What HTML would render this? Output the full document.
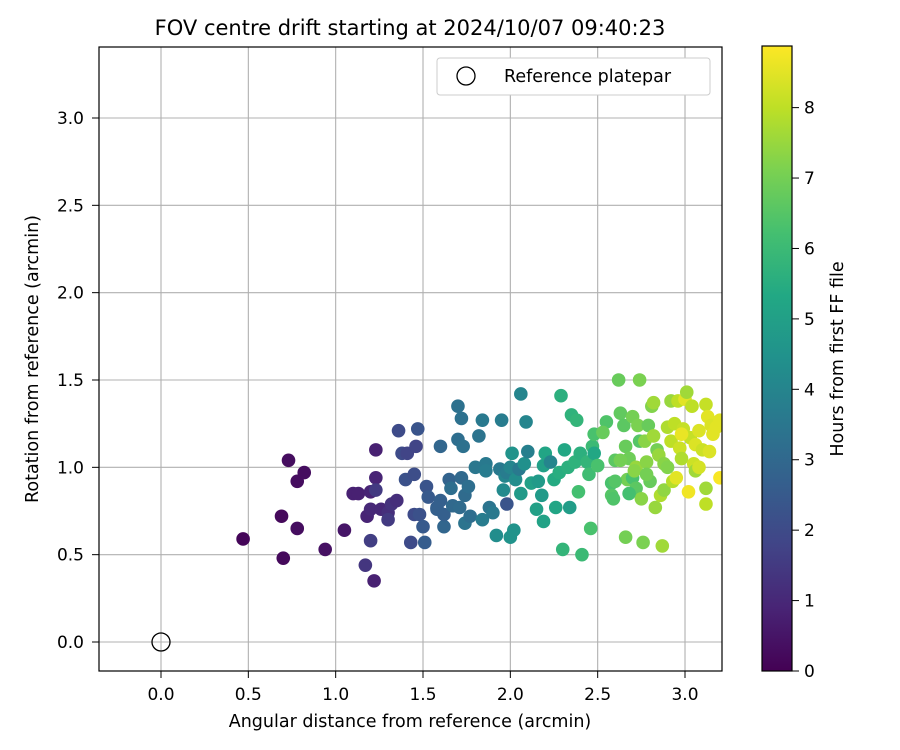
<!DOCTYPE html>
<html><head><meta charset="utf-8"><style>
body{margin:0;background:#fff;}
svg{display:block;font-family:"DejaVu Sans","Liberation Sans",sans-serif;}
</style></head><body>
<svg id="chart" width="900" height="750" viewBox="0 0 900 750" xmlns="http://www.w3.org/2000/svg">
<defs>
<linearGradient id="vir" x1="0" y1="1" x2="0" y2="0">
<stop offset="0" stop-color="#440154"/><stop offset="0.1" stop-color="#482475"/><stop offset="0.2" stop-color="#414487"/><stop offset="0.3" stop-color="#355f8d"/><stop offset="0.4" stop-color="#2a788e"/><stop offset="0.5" stop-color="#21918c"/><stop offset="0.6" stop-color="#22a884"/><stop offset="0.7" stop-color="#44bf70"/><stop offset="0.8" stop-color="#7ad151"/><stop offset="0.9" stop-color="#bddf26"/><stop offset="1" stop-color="#fde725"/>
</linearGradient>
<clipPath id="clip"><rect x="99" y="47" width="623" height="624"/></clipPath>
</defs>
<text x="410" y="35" font-size="21" text-anchor="middle">FOV centre drift starting at 2024/10/07 09:40:23</text>
<g id="grid"></g>
<g id="points" clip-path="url(#clip)"></g>
<rect x="99" y="47" width="623" height="624" fill="none" stroke="#000" stroke-width="1.2"/>
<g id="ticks"></g>
<text x="410" y="727" font-size="17.5" text-anchor="middle">Angular distance from reference (arcmin)</text>
<text transform="translate(38,359) rotate(-90)" font-size="17.5" text-anchor="middle">Rotation from reference (arcmin)</text>
<g>
<rect x="437" y="58" width="273" height="37" rx="3" fill="#fff" stroke="#ccc" stroke-width="1"/>
<circle cx="466" cy="76" r="9" fill="none" stroke="#000" stroke-width="1.3"/>
<text x="504" y="82" font-size="17.5">Reference platepar</text>
</g>
<rect x="762" y="46" width="30" height="625" fill="url(#vir)" stroke="#000" stroke-width="1.2"/>
<g id="cbticks"></g>
<text transform="translate(843,359) rotate(-90)" font-size="17.5" text-anchor="middle">Hours from first FF file</text>
</svg>
<script>
const xTicks=[0.0,0.5,1.0,1.5,2.0,2.5,3.0];
const yTicks=[0.0,0.5,1.0,1.5,2.0,2.5,3.0];
const cTicks=[0,1,2,3,4,5,6,7,8];
const refPoint=[0,0];
const ptX=[0.47,0.70,0.69,0.73,0.78,0.78,0.82,0.94,1.05,1.10,1.13,1.18,1.20,1.20,1.22,1.23,1.23,1.17,1.20,1.23,1.26,1.30,1.30,1.32,1.35,1.36,1.38,1.40,1.41,1.43,1.45,1.47,1.46,1.45,1.48,1.50,1.51,1.52,1.53,1.58,1.58,1.60,1.60,1.62,1.62,1.65,1.66,1.67,1.70,1.70,1.72,1.73,1.72,1.71,1.74,1.74,1.76,1.77,1.80,1.82,1.84,1.84,1.86,1.88,1.86,1.90,1.92,1.94,1.95,1.96,1.97,1.98,1.98,2.00,2.00,2.01,2.02,2.03,2.05,2.06,2.06,2.08,2.09,2.10,2.12,2.15,2.16,2.18,2.19,2.19,2.20,2.23,2.25,2.26,2.28,2.29,2.30,2.31,2.33,2.34,2.35,2.37,2.38,2.39,2.40,2.41,2.44,2.45,2.46,2.47,2.48,2.48,2.50,2.55,2.58,2.58,2.59,2.60,2.62,2.63,2.65,2.66,2.66,2.67,2.68,2.70,2.70,2.72,2.72,2.73,2.74,2.74,2.75,2.76,2.77,2.78,2.79,2.80,2.81,2.82,2.83,2.84,2.85,2.86,2.87,2.88,2.88,2.90,2.92,2.92,2.93,2.94,2.95,2.96,2.97,2.98,2.99,3.00,3.01,3.02,3.03,3.04,3.05,3.06,3.06,3.08,3.10,3.12,3.12,3.12,3.13,3.14,3.15,3.16,3.18,3.20,3.20,2.71,2.78,2.82,2.90,2.63,2.60,2.68,2.53,2.98,3.08];
const ptY=[0.59,0.48,0.72,1.04,0.65,0.92,0.97,0.53,0.64,0.85,0.85,0.72,0.76,0.86,0.35,1.10,0.94,0.44,0.58,0.87,0.76,0.74,0.70,0.79,0.81,1.21,1.08,0.93,1.08,0.57,0.73,1.22,1.12,0.96,0.73,0.66,0.57,0.89,0.83,0.77,0.76,0.81,1.12,0.66,0.73,0.93,0.88,0.78,1.16,1.35,1.28,1.12,0.94,0.77,0.68,0.84,0.89,0.72,1.00,1.18,1.27,0.70,1.02,0.77,0.98,0.74,0.61,0.99,1.27,0.87,0.95,0.79,0.97,0.60,1.00,1.08,0.64,0.93,0.99,1.42,0.85,1.02,1.26,1.09,0.91,0.76,0.92,0.84,0.69,1.01,1.08,1.03,0.93,0.77,0.97,1.41,0.53,1.10,1.00,0.77,1.30,1.03,1.27,0.86,1.08,0.50,1.03,0.96,0.65,1.12,1.19,1.08,1.01,1.26,0.91,0.84,0.82,1.04,1.50,1.31,1.24,1.12,0.60,0.93,1.05,1.29,0.94,0.88,1.00,1.24,1.50,1.15,0.82,0.57,1.15,1.03,1.24,0.92,1.35,1.37,0.77,1.10,1.07,0.84,0.55,0.87,1.02,1.23,1.15,1.38,0.92,1.25,0.94,1.38,1.11,1.05,1.22,1.39,1.43,0.86,1.17,1.35,1.02,1.13,0.98,1.21,1.10,1.36,0.79,0.88,1.29,1.09,1.24,1.19,1.23,0.94,1.27,0.98,0.96,1.18,1.00,1.04,0.92,0.85,1.20,1.19,1.00];
const ptHours=[0.1,0.2,0.2,0.3,0.3,0.3,0.3,0.4,0.5,0.8,0.8,0.9,1.0,0.9,0.8,0.8,0.9,1.4,1.6,1.5,1.0,1.2,1.5,1.3,1.2,2.0,2.0,2.2,1.8,2.0,2.0,2.3,1.8,2.1,2.2,2.5,2.6,2.3,2.5,2.6,2.7,2.7,2.9,2.9,2.7,2.8,3.2,3.0,3.2,3.3,3.3,3.3,3.0,3.1,3.4,3.1,3.2,3.2,3.5,3.4,3.6,3.7,3.6,3.4,3.7,3.6,4.3,3.6,3.7,4.2,4.0,2.3,3.7,4.5,4.0,4.5,4.5,4.3,3.6,4.0,4.8,4.4,4.0,3.8,5.0,5.0,4.8,4.8,5.1,5.0,5.2,4.0,5.4,5.2,5.5,5.6,5.8,5.3,5.6,4.9,5.7,5.7,5.8,6.2,5.6,6.0,5.8,6.1,6.3,6.0,6.3,5.3,6.3,6.4,6.3,6.5,6.4,6.6,6.8,6.7,6.6,6.8,7.0,7.0,6.9,7.0,6.3,6.6,7.5,7.1,7.1,6.5,7.3,7.1,7.3,7.3,6.8,6.8,7.2,7.6,7.5,7.0,7.5,7.8,7.6,7.4,7.3,7.8,8.0,7.5,7.9,8.0,8.5,8.0,8.2,7.8,8.1,8.5,7.6,8.7,8.1,8.0,8.2,8.4,7.6,8.4,8.2,8.1,8.0,7.6,8.5,8.4,8.4,8.5,8.5,8.8,8.5,7.3,7.0,7.6,7.2,7.0,6.5,6.2,6.8,8.6,8.3];

const X0=161,XS=174.67,Y0=642,YS=174.67,CMAX=8.875;
const sx=v=>X0+v*XS, sy=v=>Y0-v*YS;
const NS='http://www.w3.org/2000/svg';
const vir=[[68,1,84],[72,36,117],[65,68,135],[53,95,141],[42,120,142],[33,145,140],[34,168,132],[68,191,112],[122,209,81],[189,223,38],[253,231,37]];
function cmap(h){let t=Math.max(0,Math.min(1,h/CMAX))*10;let i=Math.min(9,Math.floor(t)),f=t-i;
 const c=vir[i].map((a,k)=>Math.round(a+(vir[i+1][k]-a)*f));return `rgb(${c})`;}
function mk(tag,attrs,parent){const e=document.createElementNS(NS,tag);for(const k in attrs)e.setAttribute(k,attrs[k]);parent.appendChild(e);return e;}
const grid=document.getElementById('grid'),ticks=document.getElementById('ticks'),pts=document.getElementById('points'),cb=document.getElementById('cbticks');
xTicks.forEach(v=>{
 const g=mk('line',{x1:sx(v),x2:sx(v),y1:47,y2:671,stroke:'#b0b0b0','stroke-width':1.1},grid);
 
 
 mk('line',{x1:sx(v),x2:sx(v),y1:671,y2:678,stroke:'#000'},ticks);
 const t=mk('text',{x:sx(v),y:700,'font-size':17,'text-anchor':'middle'},ticks);t.textContent=v.toFixed(1);
 
 
});
yTicks.forEach(v=>{
 const g=mk('line',{x1:99,x2:722,y1:sy(v),y2:sy(v),stroke:'#b0b0b0','stroke-width':1.1},grid);
 
 
 mk('line',{x1:92,x2:99,y1:sy(v),y2:sy(v),stroke:'#000'},ticks);
 const t=mk('text',{x:84,y:sy(v)+6,'font-size':17,'text-anchor':'end'},ticks);t.textContent=v.toFixed(1);
 
 
});
ptX.forEach((x,i)=>{
 const c=mk('circle',{cx:sx(x),cy:sy(ptY[i]),r:6.8,fill:cmap(ptHours[i])},pts);
 
 
});
const ref=mk('circle',{cx:sx(refPoint[0]),cy:sy(refPoint[1]),r:9,fill:'none',stroke:'#000','stroke-width':1.3},pts);


cTicks.forEach(v=>{
 const y=671-v/CMAX*625;
 mk('line',{x1:792,x2:799,y1:y,y2:y,stroke:'#000'},cb);
 const t=mk('text',{x:804,y:y+6,'font-size':17},cb);t.textContent=v;
 
 
});
</script>
</body></html>
